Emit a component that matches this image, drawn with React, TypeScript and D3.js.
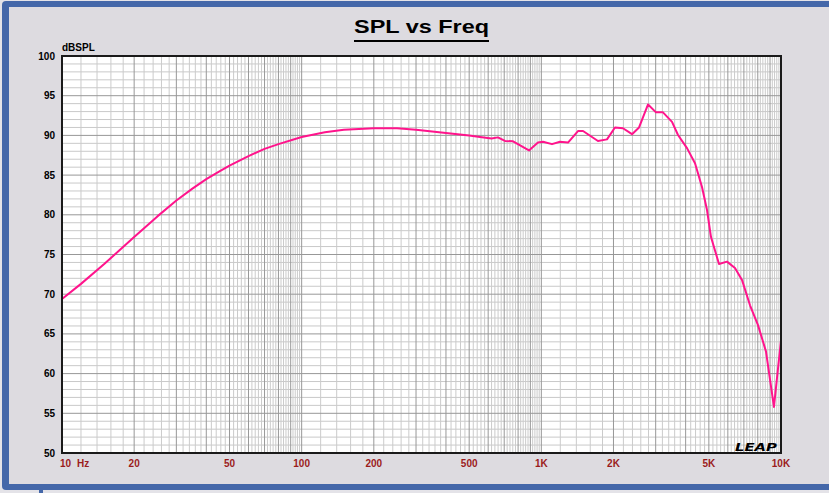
import { useEffect, useRef } from 'react';
import * as d3 from 'd3';

// SPL response (Hz, dB SPL)
const FREQ = [10, 12, 15, 20, 25, 30, 35, 40, 45, 50, 60, 70, 80, 100, 125, 150, 200, 250, 300, 400, 500, 555, 620, 659, 705, 762, 888, 968, 1016, 1108, 1196, 1292, 1422, 1493, 1723, 1879, 2029, 2191, 2390, 2557, 2788, 3009, 3218, 3510, 3718, 4053, 4378, 4681, 4912, 5105, 5512, 5952, 6426, 6875, 7425, 8017, 8655, 9345, 10000];
const SPL = [69.4, 71.3, 73.8, 77.2, 79.8, 81.8, 83.3, 84.5, 85.4, 86.2, 87.4, 88.3, 88.9, 89.8, 90.4, 90.7, 90.9, 90.9, 90.7, 90.3, 90.0, 89.8, 89.6, 89.75, 89.3, 89.25, 88.1, 89.1, 89.2, 88.9, 89.2, 89.1, 90.55, 90.55, 89.3, 89.5, 91.0, 90.9, 90.15, 91.0, 93.9, 92.9, 92.9, 91.7, 90.05, 88.4, 86.5, 83.5, 80.6, 77.2, 73.8, 74.1, 73.3, 71.8, 68.6, 66.1, 62.8, 55.8, 64.2];

const X_TICKS = [10, 20, 50, 100, 200, 500, 1000, 2000, 5000, 10000];
const X_LABELS = ['10', '20', '50', '100', '200', '500', '1K', '2K', '5K', '10K'];
const Y_TICKS = [50, 55, 60, 65, 70, 75, 80, 85, 90, 95, 100];

const W = 829;
const H = 493;
const m = { left: 62, right: 781, top: 56, bottom: 453 };

const App = () => {
  const svgRef = useRef<SVGSVGElement>(null);

  useEffect(() => {
    const svg = d3.select(svgRef.current);
    svg.selectAll('*').remove();

    const x = d3.scaleLog().domain([10, 10000]).range([m.left, m.right]);
    const y = d3.scaleLinear().domain([50, 100]).range([m.bottom, m.top]);

    // window frame
    svg.append('rect').attr('width', W).attr('height', H).attr('fill', '#e4e3e8');
    svg.append('rect').attr('x', 2).attr('y', 1).attr('width', W + 10).attr('height', 489)
      .attr('rx', 4).attr('fill', '#4467a9');
    svg.append('rect').attr('x', 9).attr('y', 7).attr('width', W).attr('height', 477)
      .attr('fill', '#dddbe0');
    svg.append('rect').attr('x', 39).attr('y', 490).attr('width', 4).attr('height', 3).attr('fill', '#4467a9');

    // plot area
    svg.append('rect')
      .attr('x', m.left).attr('y', m.top)
      .attr('width', m.right - m.left).attr('height', m.bottom - m.top)
      .attr('fill', '#ffffff');

    const vLines: { f: number; major: boolean }[] = [];
    [10, 100, 1000].forEach(d => {
      for (let k = 5; k < 50; k++) vLines.push({ f: d * k / 5, major: k % 5 === 0 });
    });

    const hLines = d3.range(51, 100);

    const grid = svg.append('g');
    grid.append('g').selectAll('line')
      .data(hLines.filter(d => d % 5 !== 0))
      .join('line')
      .attr('x1', m.left).attr('x2', m.right)
      .attr('y1', d => y(d)).attr('y2', d => y(d))
      .attr('stroke', '#c9c9c9')
      .attr('stroke-width', 1);

    grid.append('g').selectAll('line')
      .data(vLines.filter(d => !d.major))
      .join('line')
      .attr('x1', d => x(d.f)).attr('x2', d => x(d.f))
      .attr('y1', m.top).attr('y2', m.bottom)
      .attr('stroke', '#cbcbcb')
      .attr('stroke-width', 1);

    grid.append('g').selectAll('line')
      .data(hLines.filter(d => d % 5 === 0))
      .join('line')
      .attr('x1', m.left).attr('x2', m.right)
      .attr('y1', d => y(d)).attr('y2', d => y(d))
      .attr('stroke', '#989898')
      .attr('stroke-width', 1);

    grid.append('g').selectAll('line')
      .data(vLines.filter(d => d.major))
      .join('line')
      .attr('x1', d => x(d.f)).attr('x2', d => x(d.f))
      .attr('y1', m.top).attr('y2', m.bottom)
      .attr('stroke', '#989898')
      .attr('stroke-width', 1);

    // response curve
    const line = d3.line<number>()
      .x((_, i) => x(FREQ[i]))
      .y(d => y(d));

    svg.append('path')
      .datum(SPL)
      .attr('d', line)
      .attr('fill', 'none')
      .attr('stroke', '#ff148c')
      .attr('stroke-width', 2)
      .attr('stroke-linejoin', 'round');

    // border
    svg.append('rect')
      .attr('x', m.left).attr('y', m.top)
      .attr('width', m.right - m.left).attr('height', m.bottom - m.top)
      .attr('fill', 'none')
      .attr('stroke', '#1a1a1a')
      .attr('stroke-width', 2);

    const font = "'Liberation Sans', Arial, sans-serif";

    // y labels
    svg.append('g').selectAll('text')
      .data(Y_TICKS)
      .join('text')
      .attr('x', 55)
      .attr('y', d => y(d) + 3.5)
      .attr('text-anchor', 'end')
      .attr('font-family', font)
      .attr('font-size', 10)
      .attr('font-weight', 'bold')
      .attr('fill', '#000')
      .text(d => d);

    svg.append('text')
      .attr('x', 62).attr('y', 51)
      .attr('font-family', font).attr('font-size', 10).attr('font-weight', 'bold')
      .text('dBSPL');

    // x labels
    svg.append('g').selectAll('text')
      .data(X_TICKS)
      .join('text')
      .attr('x', (d, i) => (i === 0 ? 60 : x(d)))
      .attr('y', 467)
      .attr('text-anchor', (_, i) => (i === 0 ? 'start' : 'middle'))
      .attr('font-family', font)
      .attr('font-size', 10)
      .attr('font-weight', 'bold')
      .attr('fill', '#9b1c1c')
      .text((_, i) => X_LABELS[i]);

    svg.append('text')
      .attr('x', 77).attr('y', 467)
      .attr('font-family', font).attr('font-size', 10).attr('font-weight', 'bold')
      .attr('fill', '#9b1c1c')
      .text('Hz');

    // title
    svg.append('text')
      .attr('x', 354).attr('y', 33)
      .attr('font-family', font).attr('font-size', 18).attr('font-weight', 'bold')
      .attr('textLength', 135).attr('lengthAdjust', 'spacingAndGlyphs')
      .attr('fill', '#000')
      .text('SPL vs Freq');
    svg.append('rect')
      .attr('x', 354).attr('y', 40).attr('width', 135).attr('height', 2)
      .attr('fill', '#000');

    // logo
    svg.append('text')
      .attr('x', 735).attr('y', 451)
      .attr('font-family', "'DejaVu Sans', sans-serif").attr('font-size', 10).attr('font-weight', 'bold')
      .attr('font-style', 'italic')
      .attr('textLength', 42).attr('lengthAdjust', 'spacingAndGlyphs')
      .attr('fill', '#000')
      .text('LEAP');
  }, []);

  return (
    <svg
      ref={svgRef}
      width={W}
      height={H}
      style={{ position: 'absolute', left: 0, top: 0, display: 'block' }}
    />
  );
};

export default App;
